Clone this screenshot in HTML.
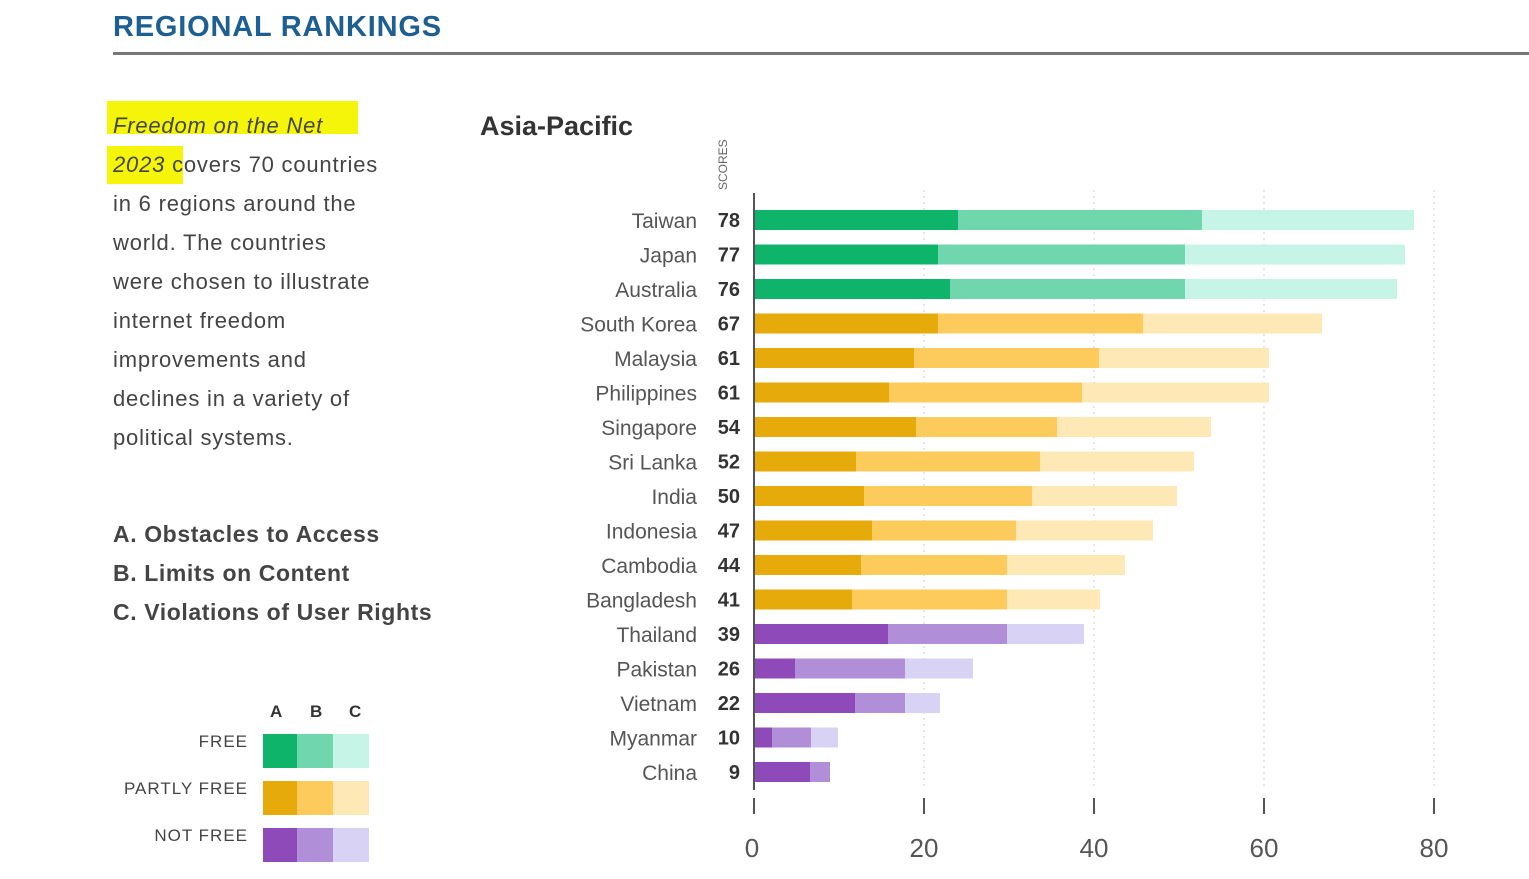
<!DOCTYPE html><html><head><meta charset="utf-8"><style>
body{margin:0;width:1529px;height:879px;background:#fff;position:relative;overflow:hidden;font-family:"Liberation Sans",sans-serif;}
.a{position:absolute;white-space:nowrap}
.t{font-size:22px;color:#444;line-height:39px;letter-spacing:0.8px}
</style></head><body>
<div class="a" style="left:113px;top:11px;font-size:29px;font-weight:bold;color:#1d5f93;letter-spacing:0.8px">REGIONAL RANKINGS</div>
<div class="a" style="left:113px;top:52px;width:1416px;height:3px;background:#777"></div>
<div class="a" style="left:107px;top:101px;width:251px;height:33px;background:#f5f50a"></div>
<div class="a" style="left:107px;top:146px;width:76px;height:38px;background:#f5f50a"></div>
<div class="a t" style="left:113px;top:106px"><i>Freedom on the Net</i><br><i>2023</i> covers 70 countries<br>in 6 regions around the<br>world. The countries<br>were chosen to illustrate<br>internet freedom<br>improvements and<br>declines in a variety of<br>political systems.</div>
<div class="a" style="left:113px;top:515px;font-size:23px;font-weight:bold;color:#444;line-height:39px;letter-spacing:0.6px">A. Obstacles to Access<br>B. Limits on Content<br>C. Violations of User Rights</div>
<div class="a" style="left:480px;top:111px;font-size:27px;font-weight:bold;color:#333">Asia-Pacific</div>
<div class="a" style="left:716px;top:190px;font-size:12px;color:#666;transform:rotate(-90deg);transform-origin:0 0">SCORES</div>
<div class="a" style="left:270px;top:702px;font-size:17px;font-weight:bold;color:#333">A</div>
<div class="a" style="left:310px;top:702px;font-size:17px;font-weight:bold;color:#333">B</div>
<div class="a" style="left:349px;top:702px;font-size:17px;font-weight:bold;color:#333">C</div>
<div class="a" style="right:1281px;top:732px;font-size:17px;color:#444;letter-spacing:1px">FREE</div>
<div class="a" style="right:1281px;top:779px;font-size:17px;color:#444;letter-spacing:1px">PARTLY FREE</div>
<div class="a" style="right:1281px;top:826px;font-size:17px;color:#444;letter-spacing:1px">NOT FREE</div>
<svg class="a" style="left:0;top:0" width="1529" height="879">
<g>
<rect x="263" y="734" width="34" height="34" fill="#0fb46b"/><rect x="297" y="734" width="36" height="34" fill="#6fd6ad"/><rect x="333" y="734" width="36" height="34" fill="#c6f5e8"/>
<rect x="263" y="781" width="34" height="34" fill="#e6ab0a"/><rect x="297" y="781" width="36" height="34" fill="#fdcb5c"/><rect x="333" y="781" width="36" height="34" fill="#fee8b6"/>
<rect x="263" y="828" width="34" height="34" fill="#8e4ab8"/><rect x="297" y="828" width="36" height="34" fill="#b08fd8"/><rect x="333" y="828" width="36" height="34" fill="#d8d2f5"/>
</g>
<g stroke="#ccc" stroke-dasharray="2,4"><line x1="924" y1="190" x2="924" y2="790"/><line x1="1094" y1="190" x2="1094" y2="790"/><line x1="1264" y1="190" x2="1264" y2="790"/><line x1="1434" y1="190" x2="1434" y2="790"/></g>
<g id="bars"></g>
<line x1="754" y1="193" x2="754" y2="790" stroke="#555" stroke-width="2"/>
<g stroke="#555" stroke-width="2"><line x1="754" y1="798" x2="754" y2="814"/><line x1="924" y1="798" x2="924" y2="814"/><line x1="1094" y1="798" x2="1094" y2="814"/><line x1="1264" y1="798" x2="1264" y2="814"/><line x1="1434" y1="798" x2="1434" y2="814"/></g>
<g font-family="Liberation Sans" font-size="26" fill="#555" text-anchor="middle"><text x="752" y="857">0</text><text x="924" y="857">20</text><text x="1094" y="857">40</text><text x="1264" y="857">60</text><text x="1434" y="857">80</text></g>
</svg>
<script>
var d=[["Taiwan",78,958,1202,1414,0],["Japan",77,938,1185,1405,0],["Australia",76,950,1185,1397,0],["South Korea",67,938,1143,1322,1],["Malaysia",61,914,1099,1269,1],["Philippines",61,889,1082,1269,1],["Singapore",54,916,1057,1211,1],["Sri Lanka",52,856,1040,1194,1],["India",50,864,1032,1177,1],["Indonesia",47,872,1016,1153,1],["Cambodia",44,861,1007,1125,1],["Bangladesh",41,852,1007,1100,1],["Thailand",39,888,1007,1084,2],["Pakistan",26,795,905,973,2],["Vietnam",22,855,905,940,2],["Myanmar",10,772,811,838,2],["China",9,810,830,830,2]];
var C=[["#0fb46b","#6fd6ad","#c6f5e8"],["#e6ab0a","#fdcb5c","#fee8b6"],["#8e4ab8","#b08fd8","#d8d2f5"]];
var s="";d.forEach(function(r,i){var y=220+i*34.5,c=C[r[5]];
s+='<rect x="755" y="'+(y-10)+'" width="'+(r[2]-755)+'" height="20" fill="'+c[0]+'"/>';
s+='<rect x="'+r[2]+'" y="'+(y-10)+'" width="'+(r[3]-r[2])+'" height="20" fill="'+c[1]+'"/>';
if(r[4]>r[3])s+='<rect x="'+r[3]+'" y="'+(y-10)+'" width="'+(r[4]-r[3])+'" height="20" fill="'+c[2]+'"/>';
s+='<text x="697" y="'+(y+8)+'" text-anchor="end" font-family="Liberation Sans" font-size="21" fill="#555">'+r[0]+'</text>';
s+='<text x="740" y="'+(y+7)+'" text-anchor="end" font-family="Liberation Sans" font-size="20" font-weight="bold" fill="#333">'+r[1]+'</text>';});
document.getElementById("bars").innerHTML=s;
</script>
</body></html>
